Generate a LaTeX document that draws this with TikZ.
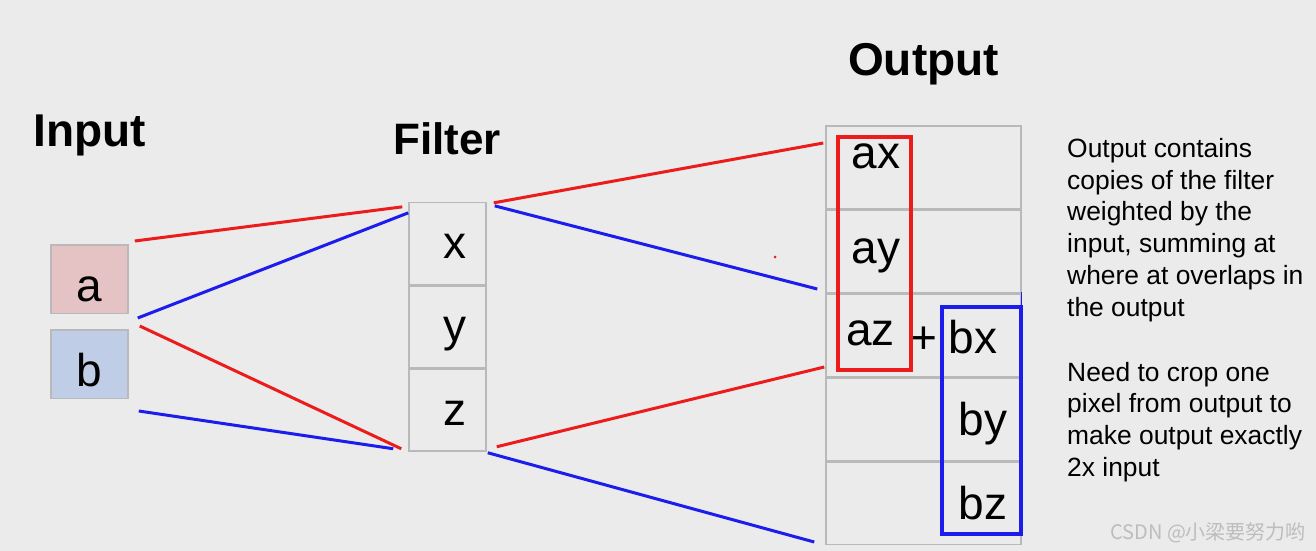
\documentclass[tikz,border=0pt]{standalone}
\usepackage{fontspec}
\setmainfont{Liberation Sans}
\newfontfamily\cjk{Noto Sans CJK SC}
\usepackage{tikz}
\usetikzlibrary{positioning}

\definecolor{bggray}{HTML}{EBEBEB}
\definecolor{cellgray}{HTML}{B9B9B9}
\definecolor{ared}{HTML}{E5C2C4}
\definecolor{bblue}{HTML}{BFCDE6}
\definecolor{linered}{HTML}{EC1C1C}
\definecolor{lineblue}{HTML}{1C1CEC}
\definecolor{wmgray}{HTML}{BDBDBD}

\begin{document}
\begin{tikzpicture}[
    x=1pt, y=-1pt,
    title/.style={inner sep=0pt, font=\fontsize{46}{50}\selectfont\bfseries},
    letter/.style={inner sep=0pt, font=\fontsize{46}{50}\selectfont},
    inbox/.style={draw=cellgray, line width=1.5pt, inner sep=0pt, minimum width=77pt,
        text height=57pt, text depth=11.5pt, font=\fontsize{46}{50}\selectfont},
    cell/.style={draw=cellgray, line width=1.5pt, minimum width=77pt, minimum height=81.8pt},
    outcell/.style={draw=cellgray, line width=1.5pt, minimum width=195pt, minimum height=82.5pt},
    redline/.style={draw=linered, line width=3pt},
    blueline/.style={draw=lineblue, line width=3pt},
    note/.style={anchor=north west, inner sep=0pt, align=left, font=\fontsize{26.4}{31.8}\selectfont}
]
\fill[bggray] (0,0) rectangle (1316,551);
\useasboundingbox (0,0) rectangle (1316,551);

% titles
\node[title] (tin) at (90,135) {Input};
\node[title, font=\fontsize{44}{48}\selectfont\bfseries] (tfil) at (447,138.5) {Filter};
\node[title] (tout) at (923.5,64) {Output};

% input
\node[inbox, fill=ared] (ina) at (89.5,279) {a};
\node[inbox, fill=bblue, below=15pt of ina] (inb) {b};

% filter
\node[cell] (fx) at (447.5,243.5) {};
\node[cell, below=0pt of fx] (fy) {};
\node[cell, below=0pt of fy] (fz) {};
\node[letter] (lx) at ([shift={(7,3)}]fx.center) {x};
\node[letter] (ly) at ([shift={(7,7)}]fy.center) {y};
\node[letter] (lz) at ([shift={(7,3)}]fz.center) {z};

% output
\node[outcell] (o1) at (923.5,167) {};
\node[outcell, below=0pt of o1] (o2) {};
\node[outcell, below=0pt of o2] (o3) {};
\node[outcell, below=0pt of o3] (o4) {};
\node[outcell, below=0pt of o4] (o5) {};

\node[letter] (ax) at (876,156) {ax};
\node[letter] (ay) at (876,255.5) {ay};
\node[letter] (az) at (870.5,333) {az};
\node[letter] (plus) at (924,340) {+};
\node[letter] (bx) at (973,337.5) {bx};
\node[letter] (by) at (983,424) {by};
\node[letter] (bz) at (983,503.5) {bz};

\draw[linered, line width=4.5pt] (838,137) rectangle (911,370);
\draw[lineblue, line width=4.5pt] (942,307) rectangle (1021,534);
\draw[lineblue, line width=1pt] (1021,292) -- (1021,307);

% connectors input -> filter
\draw[redline] ([shift={(6,-3)}]ina.north east) -- ([shift={(-6,5)}]fx.north west);
\draw[blueline] ([shift={(9,4)}]ina.south east) -- ([shift={(0,11)}]fx.north west);
\draw[redline] ([shift={(11,12)}]ina.south east) -- ([shift={(-7,-3)}]fz.south west);
\draw[blueline] ([shift={(10,12)}]inb.south east) -- ([shift={(-15,-3)}]fz.south west);

% connectors filter -> output
\draw[redline] ([shift={(7,1)}]fx.north east) -- ([shift={(-2,18)}]o1.north west);
\draw[blueline] ([shift={(8,4)}]fx.north east) -- ([shift={(-8,-4)}]o3.north west);
\draw[redline] ([shift={(10,-5)}]fz.south east) -- ([shift={(-1,-10)}]o3.south west);
\draw[blueline] ([shift={(1,1)}]fz.south east) -- ([shift={(-11,-3)}]o5.south west);

\fill[linered] (775,257) circle (1.5);

% note
\node[note] (txt) at (1067,138) {Output contains\\copies of the filter\\weighted by the\\input, summing at\\where at overlaps in\\the output\\[33pt]Need to crop one\\pixel from output to\\make output exactly\\2x input};

\node[anchor=west, inner sep=0pt, text=wmgray, font=\fontsize{20}{22}\selectfont\cjk] (wm) at (1110,533) {CSDN @小梁要努力哟};
\end{tikzpicture}
\end{document}
